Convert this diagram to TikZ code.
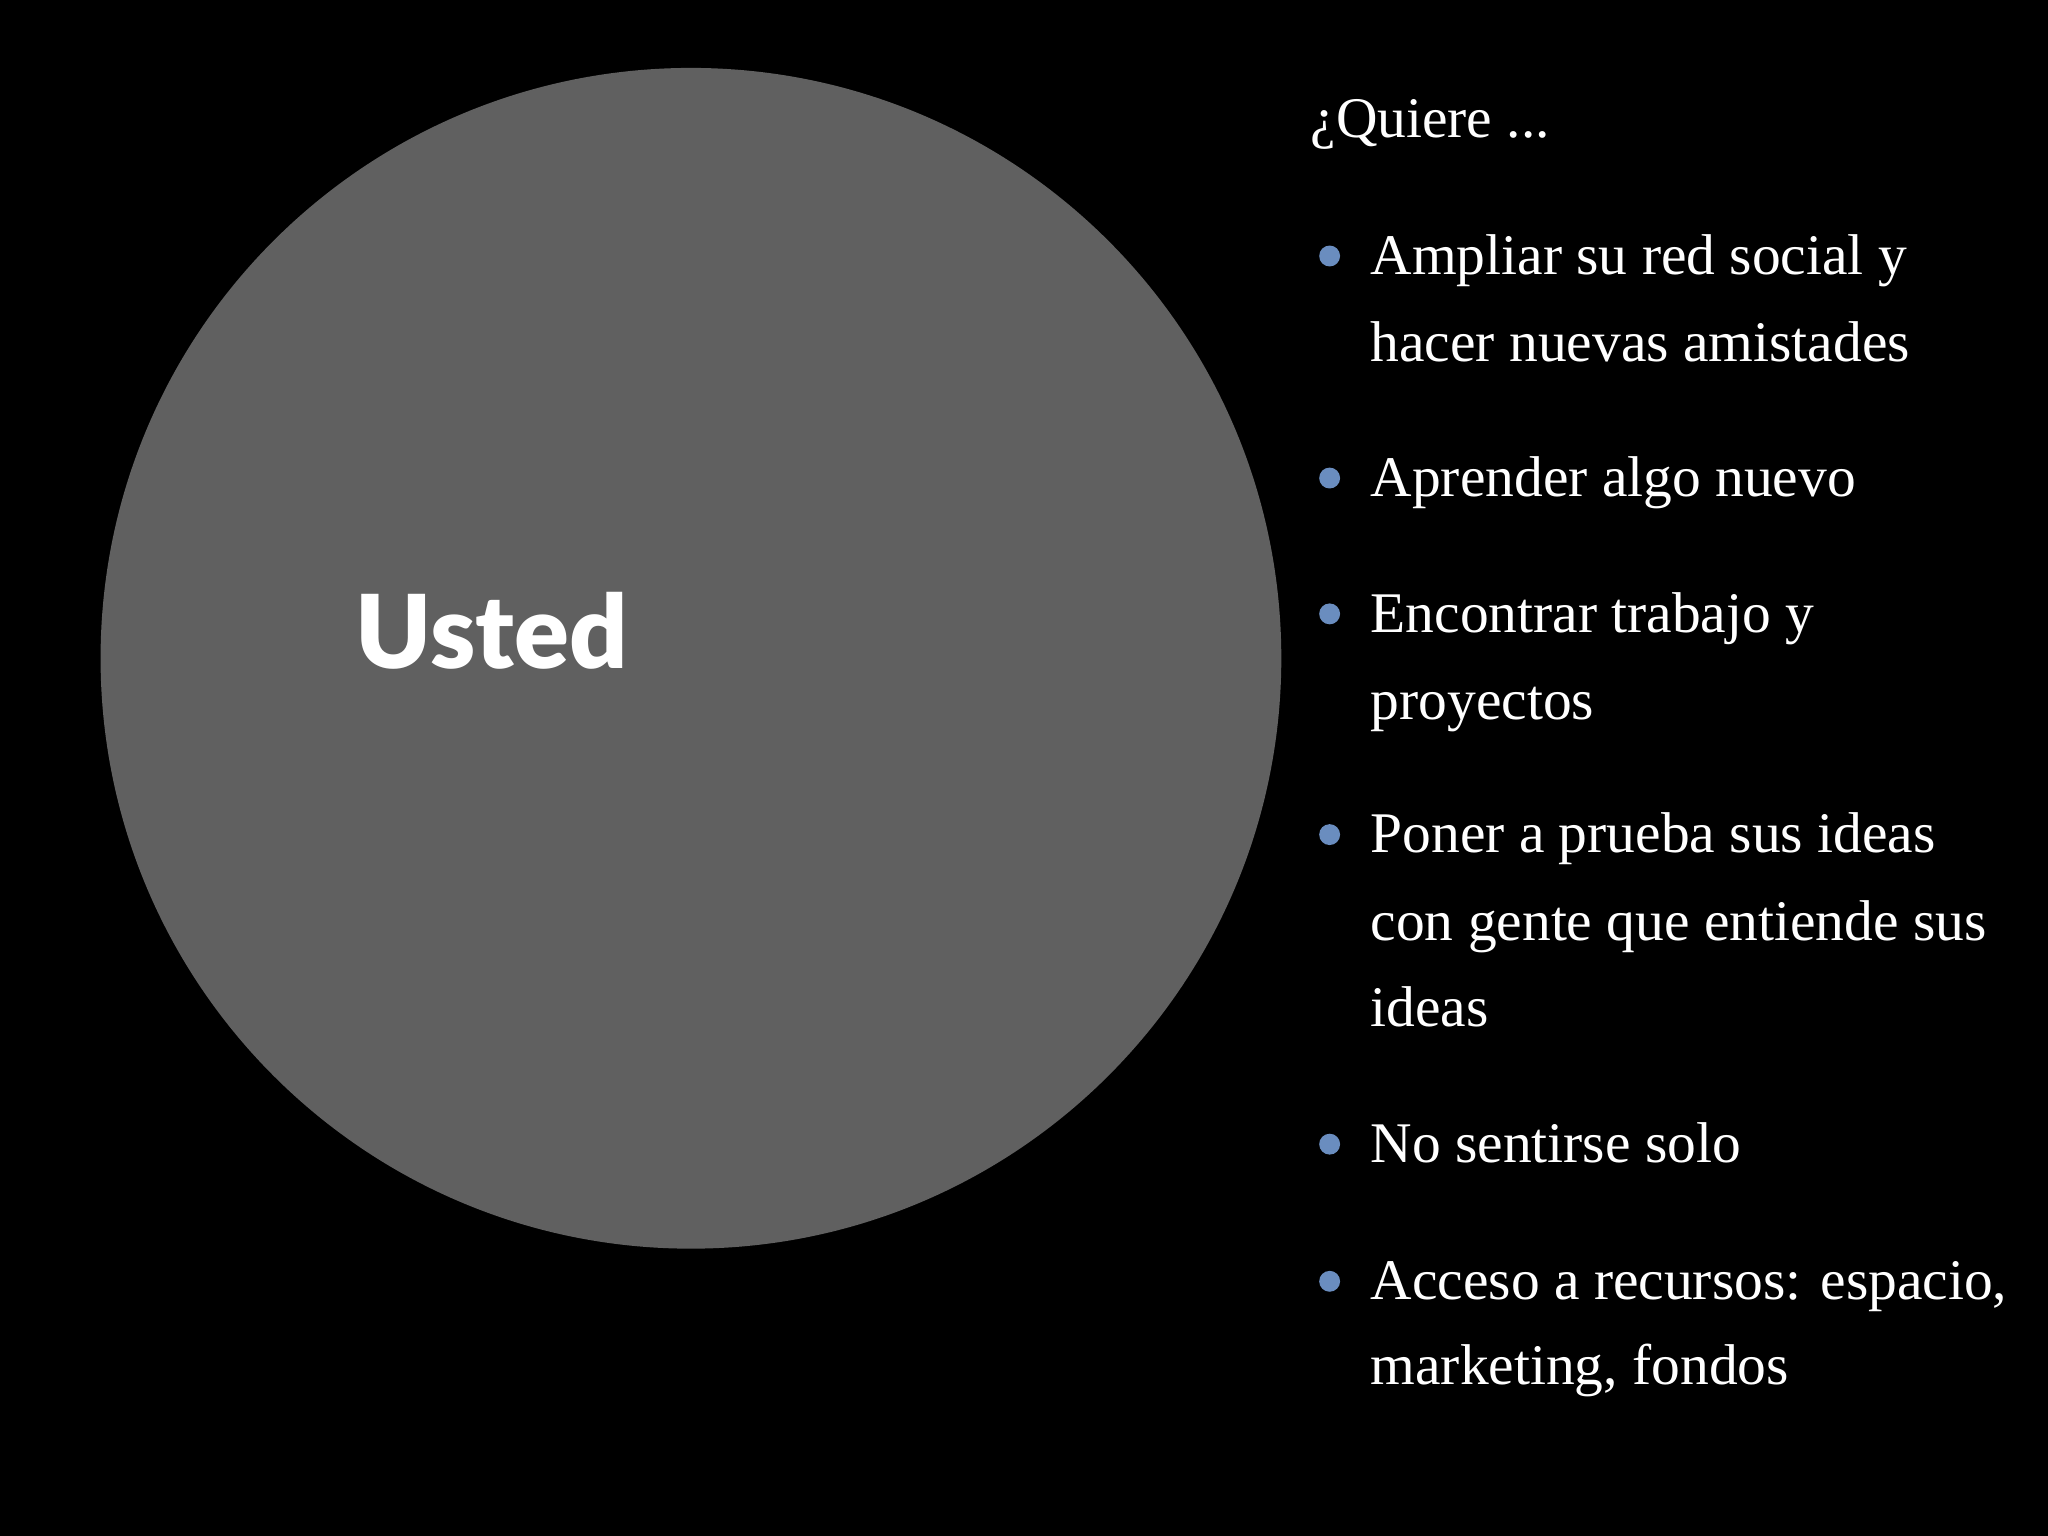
\documentclass[tikz,border=0pt]{standalone}
\usepackage{fontspec}
\setmainfont{Liberation Serif}
\newfontfamily\ustedfont{Lato Black}
\definecolor{circgray}{HTML}{606060}
\definecolor{bulletblue}{HTML}{6A8DBF}
\begin{document}
\begin{tikzpicture}[x=0.5pt,y=-0.5pt,
  txt/.style={anchor=base west,inner sep=0pt,text=white,font=\fontsize{22}{26}\selectfont},
  dot/.style={circle,fill=bulletblue,minimum size=8pt,inner sep=0pt}]
\fill[black] (0,0) rectangle (1568,1176);
\useasboundingbox (0,0) rectangle (1568,1176);
\node[circle,fill=circgray,minimum size=904*0.5pt,inner sep=0pt] (c) at (529,504) {};
\node[anchor=base west,inner sep=0pt,text=white,font=\ustedfont\fontsize{39}{44}\selectfont] (u) at (272,512) {Usted};
\node[txt] (q) at (1003,105) {¿Quiere ...};
\foreach \n/\y/\t in {a/210/Ampliar su red social y, b/380/Aprender algo nuevo, c2/484/Encontrar trabajo y, d/653/Poner a prueba sus ideas, e/890/No sentirse solo, f/995/{Acceso a recursos: espacio,}}{
  \node[dot] (d\n) at (1018,\y-14) {};
  \node[txt] (t\n) at (1049,\y) {\t};
}
\node[txt] (ta2) at (1049,277) {hacer nuevas amistades};
\node[txt] (tc3) at (1049,551) {proyectos};
\node[txt] (td2) at (1049,720) {con gente que entiende sus};
\node[txt] (td3) at (1049,786) {ideas};
\node[txt] (tf2) at (1049,1060) {marketing, fondos};
\end{tikzpicture}
\end{document}
